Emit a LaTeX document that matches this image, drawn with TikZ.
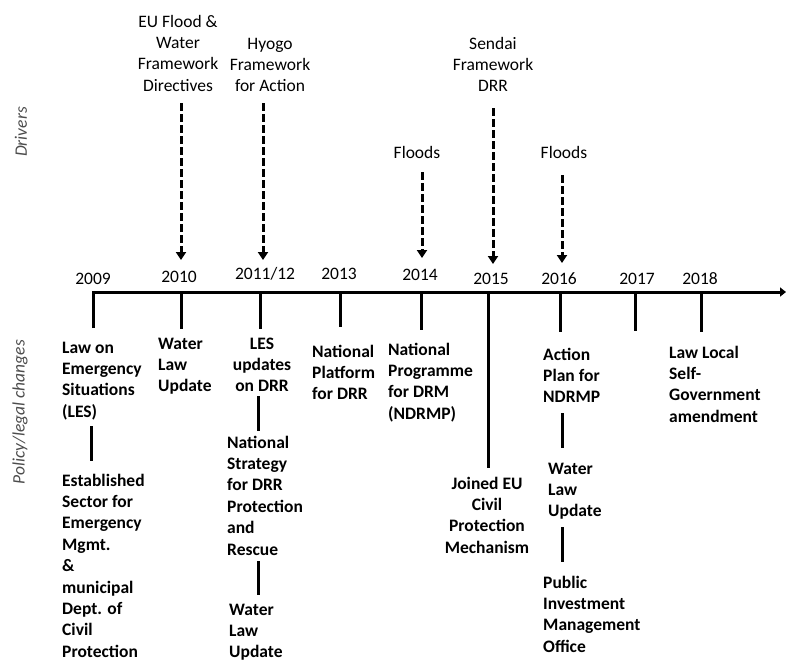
\documentclass[tikz,border=0pt]{standalone}
\usepackage{fontspec}
\setmainfont{Carlito}
\usetikzlibrary{arrows.meta}
\begin{document}
\begin{tikzpicture}[x=1pt,y=-1pt,
  lbl/.style={font=\fontsize{17.5}{21.4}\selectfont, inner sep=0pt},
  pol/.style={lbl, font=\fontsize{17.5}{21.4}\selectfont\bfseries, align=left, anchor=north west},
  polc/.style={pol, align=center, anchor=north},
  drv/.style={lbl, align=center, anchor=north},
  yr/.style={lbl, anchor=base},
  axisline/.style={line width=3pt, -{Triangle[width=9pt,length=6pt]}},
  tickline/.style={line width=3pt},
  link/.style={line width=3pt},
  driver/.style={line width=3pt, dash pattern=on 7.5pt off 3.5pt, -{Triangle[width=10pt,length=8pt]}},
  side/.style={lbl, font=\fontsize{17.5}{21.4}\selectfont\itshape, text=black!70, rotate=90}
]
\useasboundingbox (0,0) rectangle (786,662);

% side captions
\node[side] (drivers) at (21,132) {Drivers};
\node[side] (policy) at (20,412) {Policy/legal changes};

% time axis with year ticks
\coordinate (a09) at (93,292);
\coordinate (aend) at (786,292);
\coordinate (e09) at (93,328);
\draw[axisline] (e09) -- (a09) -- (aend);

\foreach \n/\x/\yend in {10/181/329, 11/260/329, 13/340/327, 14/421/330,
                         15/488/468, 16/560/332, 17/635/331, 18/701/332}{
  \coordinate (a\n) at (\x,292);
  \coordinate (e\n) at (\x,\yend);
  \draw[tickline] (a\n) -- (e\n);
}

% year labels
\node[yr] (y09) at (93,284) {2009};
\node[yr] (y10) at (179,282) {2010};
\node[yr] (y11) at (265,279) {2011/12};
\node[yr] (y13) at (339,279) {2013};
\node[yr] (y14) at (420,280) {2014};
\node[yr] (y15) at (491,284) {2015};
\node[yr] (y16) at (559,284) {2016};
\node[yr] (y17) at (637,284) {2017};
\node[yr] (y18) at (700,284) {2018};

% drivers
\node[drv] (eu) at (178,12) {\strut EU Flood \&\\Water\\Framework\\Directives};
\node[drv] (hyogo) at (270,34) {\strut Hyogo\\Framework\\for Action};
\node[drv] (fl14) at (417,143) {\strut Floods};
\node[drv] (sendai) at (493,34) {\strut Sendai\\Framework\\DRR};
\node[drv] (fl16) at (564,143) {\strut Floods};

\coordinate (d1s) at (181,103); \coordinate (d1e) at (181,260);
\coordinate (d2s) at (263,103); \coordinate (d2e) at (263,260);
\coordinate (d3s) at (422,172); \coordinate (d3e) at (422,258);
\coordinate (d4s) at (493,108); \coordinate (d4e) at (493,264);
\coordinate (d5s) at (562,175); \coordinate (d5e) at (562,263);
\draw[driver] (d1s) -- (d1e);
\draw[driver] (d2s) -- (d2e);
\draw[driver] (d3s) -- (d3e);
\draw[driver] (d4s) -- (d4e);
\draw[driver] (d5s) -- (d5e);

% policy and legal changes
\node[pol] (les) at (62,338) {\strut Law on\\Emergency\\Situations\\(LES)};
\node[pol] (est) at (62,471) {\strut Established\\Sector for\\Emergency\\Mgmt.\\\&\\municipal\\Dept. of\\Civil\\Protection};
\node[pol] (wlu10) at (158,334) {\strut Water\\Law\\Update};
\node[polc] (lesu) at (262,334) {\strut LES\\updates\\on DRR};
\node[pol] (nstrat) at (227,433) {\strut National\\Strategy\\for DRR\\Protection\\and\\Rescue};
\node[pol] (wlu12) at (229,600) {\strut Water\\Law\\Update};
\node[pol] (nplat) at (312,342) {\strut National\\Platform\\for DRR};
\node[pol] (nprog) at (388,340) {\strut National\\Programme\\for DRM\\(NDRMP)};
\node[polc] (joined) at (487,474) {\strut Joined EU\\Civil\\Protection\\Mechanism};
\node[pol] (action) at (543,345) {\strut Action\\Plan for\\NDRMP};
\node[pol] (wlu16) at (548,459) {\strut Water\\Law\\Update};
\node[pol] (pim) at (543,573) {\strut Public\\Investment\\Management\\Office};
\node[pol] (lsg) at (669,343) {\strut Law Local\\Self-\\Government\\amendment};

% links between successive changes
\coordinate (l1s) at (91,426);  \coordinate (l1e) at (91,461);
\coordinate (l2s) at (258,396); \coordinate (l2e) at (258,431);
\coordinate (l3s) at (258,561); \coordinate (l3e) at (258,595);
\coordinate (l4s) at (562,413); \coordinate (l4e) at (562,448);
\coordinate (l5s) at (562,527); \coordinate (l5e) at (562,562);
\draw[link] (l1s) -- (l1e);
\draw[link] (l2s) -- (l2e);
\draw[link] (l3s) -- (l3e);
\draw[link] (l4s) -- (l4e);
\draw[link] (l5s) -- (l5e);
\end{tikzpicture}
\end{document}
